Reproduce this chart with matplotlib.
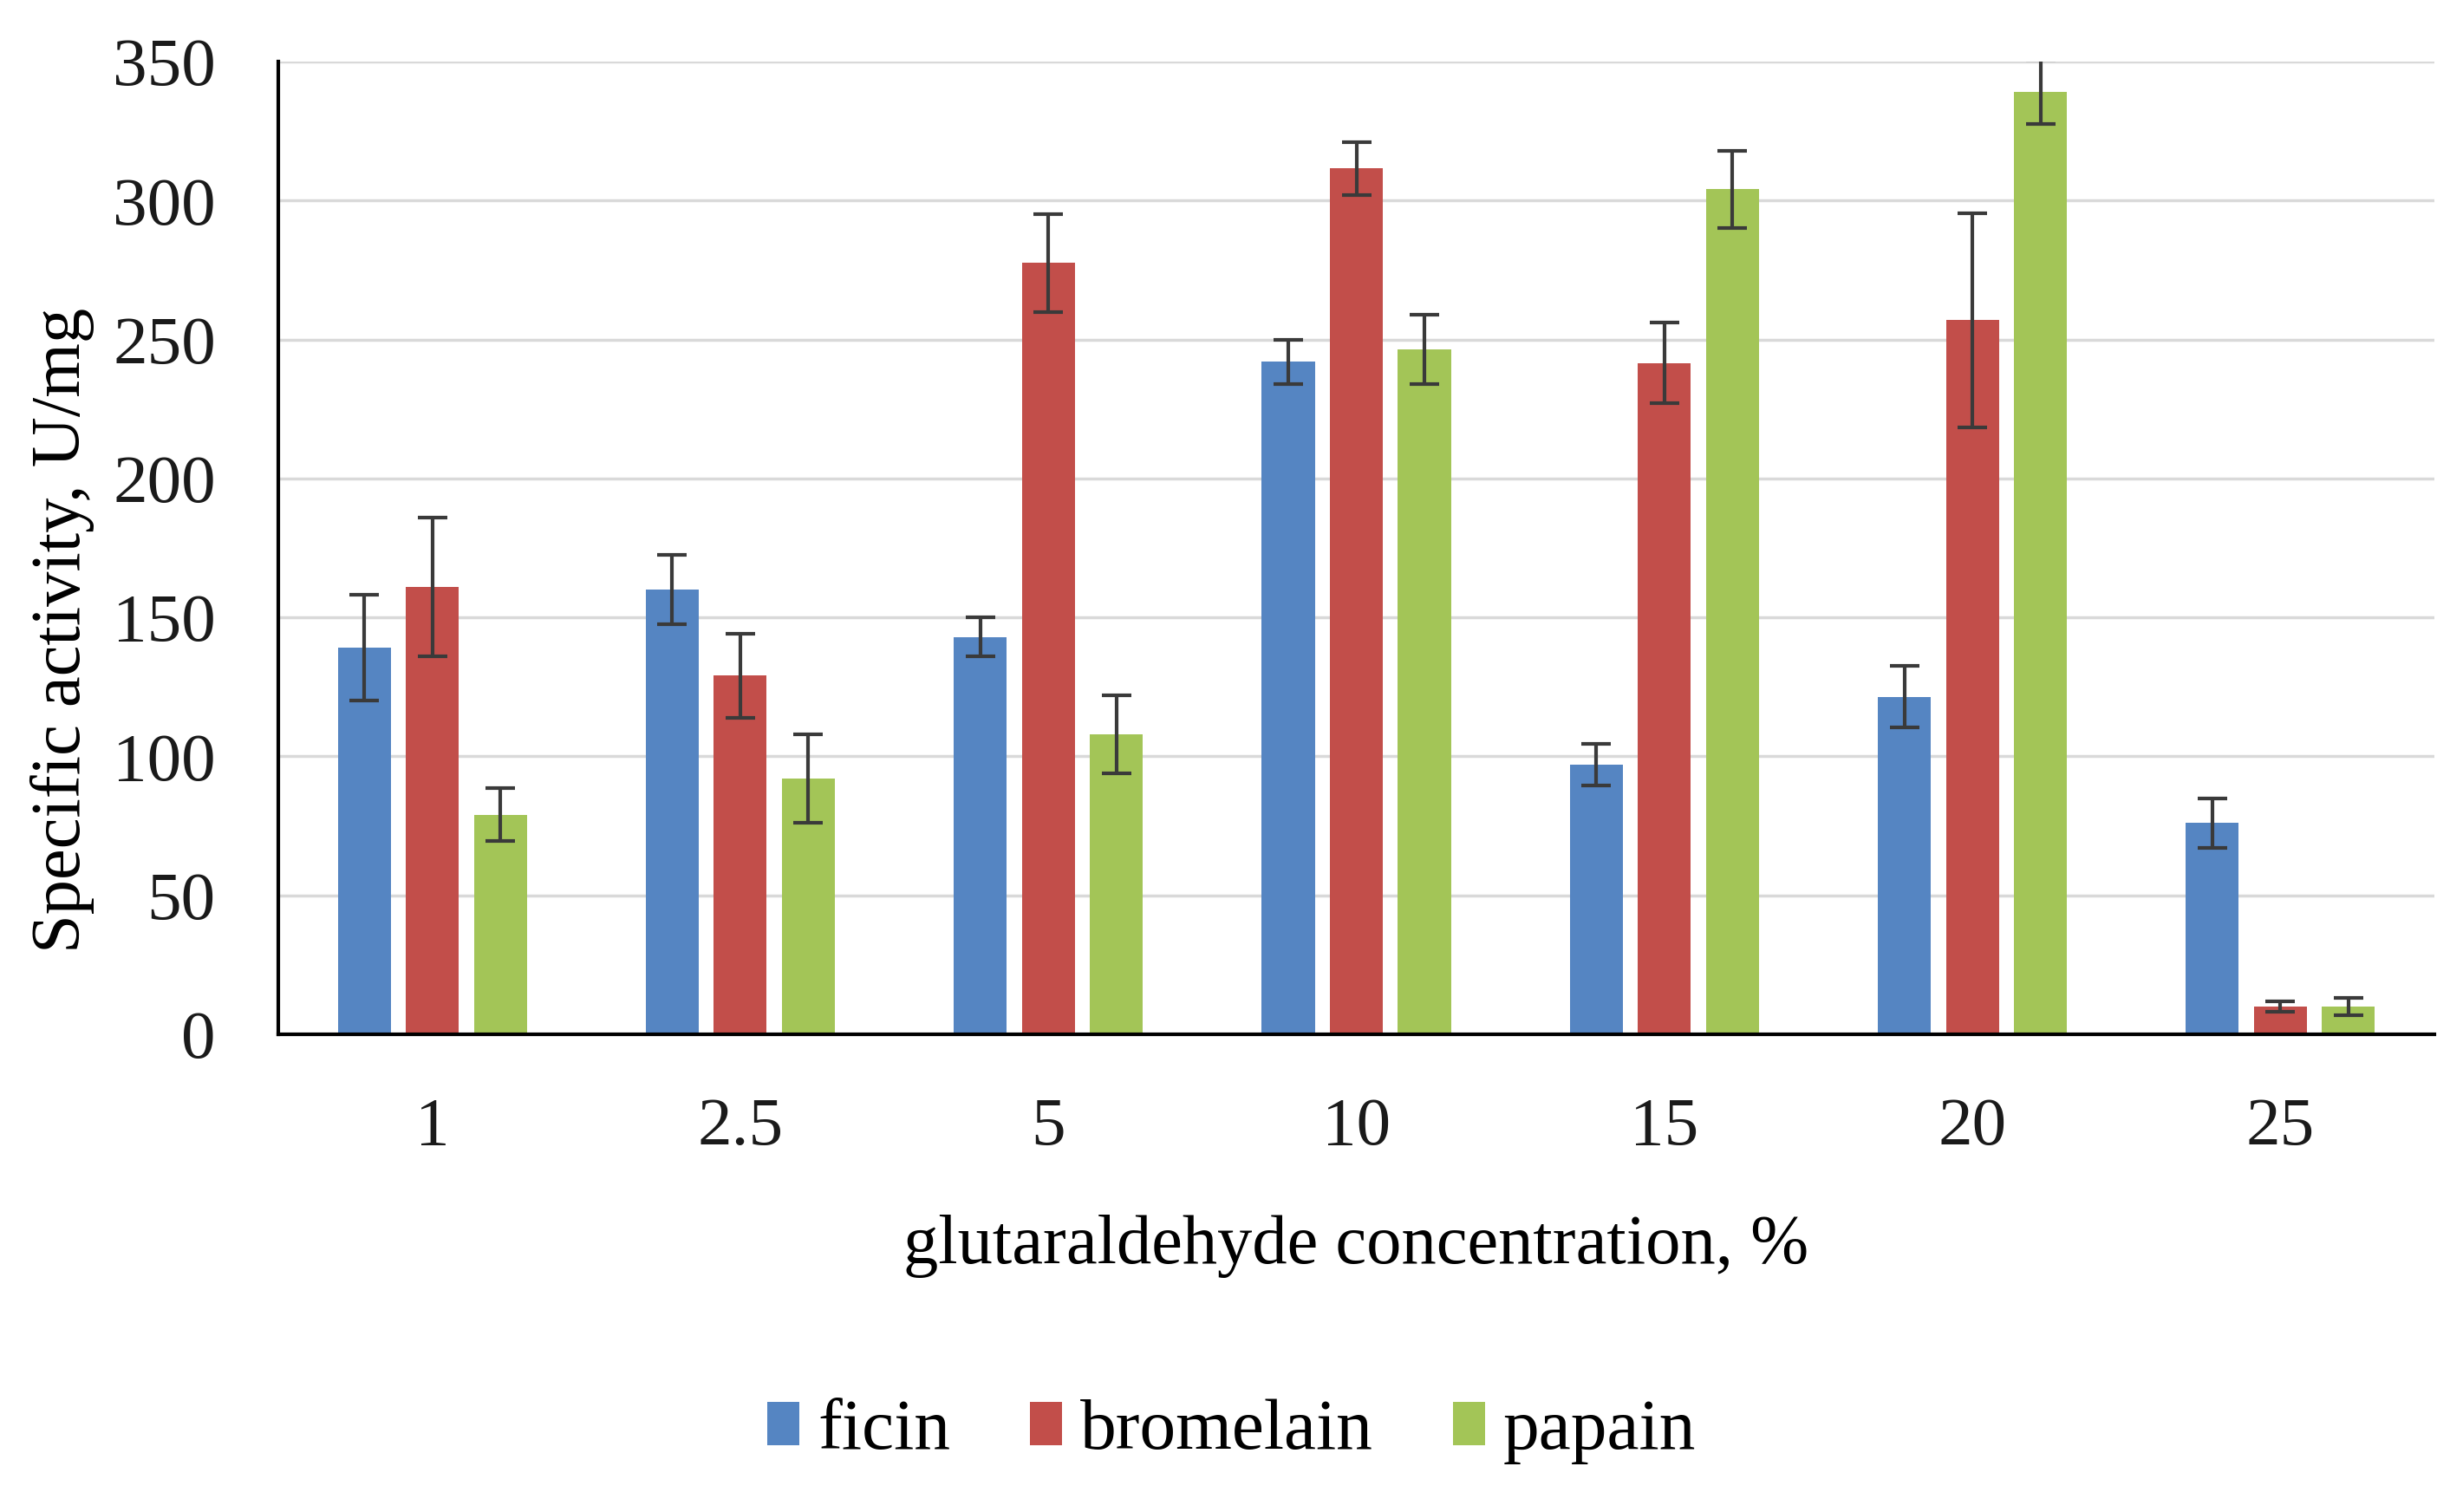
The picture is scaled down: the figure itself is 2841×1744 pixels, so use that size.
import numpy as np
import matplotlib
matplotlib.use('Agg')
import matplotlib.pyplot as plt

# data
categories = ['1', '2.5', '5', '10', '15', '20', '25']
ficin = [139, 160, 143, 242, 97, 121.5, 76]
ficin_err = [19, 12.5, 7, 8, 7.5, 11, 9]
bromelain = [161, 129, 277.5, 311.5, 241.5, 257, 10]
bromelain_err = [25, 15, 17.5, 9.5, 14.5, 38.5, 2]
papain = [79, 92, 108, 246.5, 304, 339, 10]
papain_err = [9.5, 16, 14, 12.5, 14, 11.5, 3]
series_names = ['ficin', 'bromelain', 'papain']
colors = ['#5585C2', '#C24E4A', '#A3C557']

plt.rcParams['font.family'] = ['Liberation Serif', 'DejaVu Serif']

W, H = 2841, 1744
fig = plt.figure(figsize=(W / 100, H / 100), dpi=100)
ax = fig.add_axes([321 / W, 1 - 1193 / H, (2808 - 321) / W, (1193 - 71) / H])

x = np.arange(len(categories))
w = 0.172
off = 0.221
for k, (vals, errs) in enumerate([(ficin, ficin_err), (bromelain, bromelain_err), (papain, papain_err)]):
    ax.bar(x + (k - 1) * off, vals, width=w, color=colors[k], label=series_names[k], zorder=3,
           yerr=errs, error_kw=dict(ecolor='#3a3a3a', elinewidth=3, capsize=12, capthick=3, zorder=4))

ax.set_xlim(-0.5, len(categories) - 0.5)
ax.set_ylim(0, 350)
ax.set_yticks(np.arange(0, 351, 50))
ax.set_xticks(x)
ax.set_xticklabels(categories)
ax.yaxis.grid(True, color='#D9D9D9', linewidth=2.5, zorder=0)
ax.tick_params(axis='both', length=0, labelsize=57, colors='#1a1a1a')
ax.tick_params(axis='x', pad=52)
ax.tick_params(axis='y', pad=52)
for s in ['top', 'right']:
    ax.spines[s].set_visible(False)
for s in ['left', 'bottom']:
    ax.spines[s].set_linewidth(3)
    ax.spines[s].set_color('black')
    ax.spines[s].set_zorder(5)

ax.set_xlabel('glutaraldehyde concentration, %', fontsize=58, labelpad=46)
ax.set_ylabel('Specific activity, U/mg', fontsize=58)
ax.yaxis.set_label_coords(-212 / (2808 - 321), 0.415)

fig.legend(loc='center', bbox_to_anchor=(0.5, 0.053), ncol=3, frameon=False, fontsize=60,
           handlelength=0.45, handleheight=0.55, handletextpad=0.25, columnspacing=1.1)

fig.savefig('out.png', dpi=100, facecolor='white')
